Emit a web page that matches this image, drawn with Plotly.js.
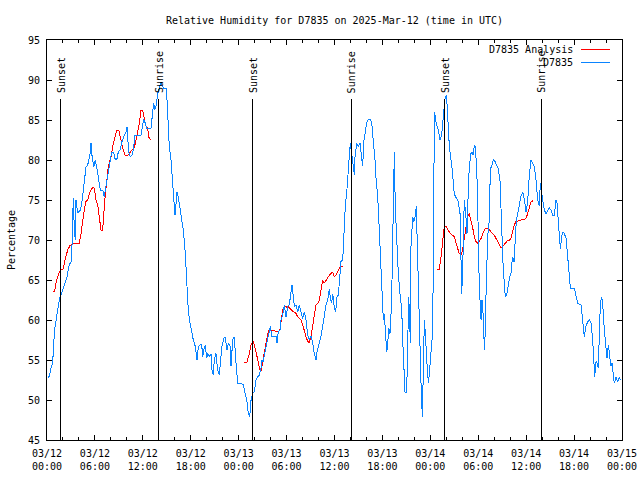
<!DOCTYPE html>
<html>
<head>
<meta charset="utf-8">
<script src="https://cdn.plot.ly/plotly-3.0.1.min.js"></script>
<style>
html,body{margin:0;padding:0;background:#fff}
#chart .scatterlayer path, #chart .shapelayer path { shape-rendering: crispEdges; }
</style>
</head>
<body>
<div id="chart" style="width:640px;height:480px"></div>
<script>
// Hours since 2025-03-12 00:00 UTC
const startUTC = Date.UTC(2025, 2, 12);

const obsHours = [
0.13,0.29,0.50,0.71,0.84,1.00,1.34,1.63,1.84,2.09,
2.25,2.50,2.79,3.01,3.13,3.29,3.42,3.54,3.63,3.84,
4.17,4.35,4.55,4.67,4.88,5.10,5.30,5.45,5.51,5.63,
5.85,6.05,6.26,6.42,6.67,6.97,7.18,7.30,7.51,7.73,
7.89,8.10,8.35,8.51,8.73,8.93,9.14,9.39,9.68,9.89,
10.02,10.11,10.23,10.43,10.64,10.86,10.98,11.77,11.98,12.11,
12.31,12.48,13.02,13.19,13.36,13.52,13.69,13.86,14.06,14.28,
14.56,14.90,15.03,15.15,15.31,15.53,15.65,15.82,16.03,16.15,
16.28,16.44,16.65,16.87,17.07,17.32,17.53,17.69,17.91,18.12,
18.32,18.57,18.78,18.95,19.16,19.37,19.50,19.62,19.82,20.00,
20.12,20.32,20.54,20.66,20.82,20.95,21.16,21.37,21.58,21.70,
21.91,22.13,22.29,22.54,22.70,22.92,23.04,23.25,23.45,23.67,
23.88,24.29,24.58,24.79,25.01,25.21,25.38,25.55,25.76,25.96,
26.17,26.38,26.58,26.80,26.88,27.05,27.21,27.42,27.64,27.84,
27.96,28.14,28.68,28.80,28.96,29.18,29.30,29.51,29.72,29.93,
30.14,30.34,30.55,30.68,30.84,30.97,31.18,31.39,31.59,31.81,
32.02,32.22,32.43,32.65,32.85,33.06,33.27,33.47,33.68,33.81,
33.97,34.19,34.31,34.52,34.72,34.94,35.15,35.35,35.48,35.65,
35.78,35.98,36.15,36.31,36.48,36.60,36.81,37.03,37.10,37.23,
37.35,37.53,37.65,37.85,37.98,38.15,38.36,38.48,38.57,38.78,
38.98,39.19,39.41,39.53,39.66,39.82,40.03,40.23,40.48,40.66,
40.86,41.07,41.20,41.41,41.61,41.82,42.04,42.11,42.24,42.36,
42.54,42.66,42.79,42.95,43.08,43.20,43.36,43.49,43.61,43.79,
43.99,44.20,44.42,44.54,44.67,44.83,45.04,45.17,45.29,45.42,
45.49,45.58,45.79,45.92,46.08,46.24,46.37,46.49,46.67,46.74,
46.87,47.00,47.12,47.17,47.25,47.37,47.50,47.65,47.77,47.95,
48.08,48.21,48.37,48.50,48.62,48.77,49.00,49.21,49.42,49.62,
49.84,50.03,50.18,50.38,50.59,50.80,50.93,51.13,51.30,51.50,
51.72,51.84,51.93,52.05,52.18,52.25,52.46,52.59,52.75,52.88,
53.09,53.22,53.38,53.51,53.63,53.81,53.93,54.01,54.13,54.26,
54.35,54.47,54.60,54.68,54.81,54.93,55.06,55.18,55.39,55.51,
55.69,55.89,56.10,56.31,56.51,56.72,56.85,56.97,57.10,57.26,
57.39,57.60,57.76,57.94,58.10,58.29,58.48,58.60,58.77,58.94,
59.14,59.35,59.57,59.77,59.98,60.19,60.39,60.61,60.82,61.02,
61.23,61.45,61.65,61.77,61.95,62.11,62.27,62.48,62.70,62.90,
63.11,63.32,63.53,63.74,63.86,63.95,64.15,64.28,64.45,64.58,
64.78,64.99,65.20,65.40,65.53,66.03,66.24,66.45,66.87,66.99,
67.16,67.28,67.49,67.71,67.91,68.12,68.33,68.46,68.58,68.75,
68.87,69.03,69.16,69.29,69.46,69.58,69.79,70.00,70.12,70.29,
70.46,70.62,70.75,70.91,71.04,71.25,71.46,71.66,71.79
];
const obsValues = [
52.8,53.0,54.0,54.6,57.1,59.1,61.25,62.9,63.4,64.1,
64.5,65.4,66.9,67.3,69.3,75.2,71.5,70.0,75.0,73.4,
73.75,74.6,76.25,77.7,79.1,79.4,80.6,81.0,82.1,80.6,
79.1,80.0,78.9,77.9,76.25,76.25,75.4,76.25,77.5,79.1,
79.6,81.0,81.0,80.2,80.0,81.0,81.25,82.3,83.1,83.5,
84.1,83.1,81.0,80.4,80.6,81.5,83.1,83.1,84.6,85.1,
84.6,84.0,84.0,86.0,87.1,86.3,86.9,88.3,89.0,89.75,
89.0,89.0,87.5,84.4,81.7,80.0,77.9,75.9,73.1,75.0,
76.0,75.4,73.75,72.5,71.25,68.3,64.2,61.25,59.6,58.4,
57.5,56.7,55.0,56.7,56.9,56.9,55.4,56.25,56.9,55.2,
55.8,55.4,55.8,53.75,53.1,55.0,55.8,53.75,53.1,54.6,
56.7,57.7,57.9,56.25,57.1,56.7,54.2,57.5,57.9,54.6,
52.1,52.1,51.9,50.9,50.0,48.3,47.9,50.0,50.8,51.1,
52.5,52.9,53.1,54.0,55.0,54.8,55.6,56.3,57.5,58.75,
59.2,58.0,58.0,57.1,58.5,58.75,60.0,60.6,61.9,60.4,
61.7,61.9,63.75,64.4,63.0,61.7,61.9,61.0,61.9,61.0,
60.2,61.0,60.0,58.1,57.5,58.0,57.1,55.8,55.0,56.0,
56.7,57.3,58.0,59.2,60.4,61.9,62.5,63.9,62.7,62.1,
63.3,61.5,61.0,62.9,63.1,64.7,67.3,67.5,69.2,71.0,
74.2,75.9,78.3,80.4,82.1,80.4,79.2,78.1,80.4,82.1,
81.7,82.1,80.0,79.2,82.3,83.1,84.6,85.1,85.1,84.6,
82.5,80.0,77.7,75.4,71.25,66.0,60.8,60.0,60.8,58.5,
56.0,57.0,59.0,58.3,60.8,65.0,77.9,81.0,74.2,70.0,
65.8,63.3,61.25,57.5,54.6,51.0,51.0,56.7,62.9,60.0,
57.1,69.2,72.9,72.3,72.9,74.2,69.2,64.2,57.5,54.2,
50.8,47.9,52.5,57.1,60.0,58.3,55.4,53.3,52.1,54.2,
55.8,57.5,65.0,86.0,85.4,84.4,83.75,82.5,83.1,85.6,
87.7,88.1,85.8,81.7,80.0,78.3,76.25,75.4,75.2,74.8,
73.3,68.3,63.3,66.25,72.5,75.0,72.9,70.8,76.25,79.2,
80.8,81.0,80.6,81.9,81.7,78.9,74.4,68.0,64.2,61.7,
60.0,62.5,60.8,58.3,56.25,61.7,66.7,70.4,72.5,78.9,
79.2,80.0,79.8,79.2,78.9,77.5,73.3,69.6,67.1,64.6,
62.9,63.3,64.6,65.4,65.8,67.9,67.3,70.0,72.5,73.3,
74.6,75.5,76.0,75.1,73.5,74.8,78.0,80.0,79.6,79.2,
77.5,75.0,74.2,77.1,75.8,74.8,73.75,73.3,73.75,74.0,
73.75,73.1,73.1,75.0,74.6,73.3,71.25,68.9,70.4,71.0,
70.8,70.2,67.9,65.8,64.0,64.0,63.1,62.1,61.9,60.8,
59.2,57.9,59.2,59.8,60.0,59.6,57.5,54.6,52.9,54.8,
54.6,54.0,57.1,62.1,62.9,62.1,58.75,56.25,55.2,56.9,
55.4,54.2,54.6,53.3,52.1,52.9,52.3,52.9,52.5
];

// Analysis series (three separate runs, gaps as null)
const anaHours = [
0.71,0.94,1.21,1.54,1.84,2.04,2.25,2.59,2.88,3.29,
3.72,4.04,4.26,4.47,4.67,4.88,5.10,5.30,5.51,5.72,
5.92,6.14,6.35,6.55,6.76,6.97,7.18,7.30,7.48,7.60,
7.80,8.01,8.23,8.51,8.73,8.98,9.14,9.35,9.55,9.77,
10.11,10.31,10.61,10.93,11.14,11.36,11.56,11.77,11.98,12.18,
12.40,12.61,12.73,12.94,
null,
24.63,25.04,25.33,25.58,25.80,25.98,26.26,26.46,26.67,26.83,
27.09,27.30,27.51,27.64,27.84,28.26,28.76,29.01,29.18,29.30,
29.51,29.72,29.93,30.14,30.34,30.55,30.77,30.97,31.18,31.39,
31.59,31.81,32.02,32.22,32.43,32.65,32.85,33.06,33.27,33.47,
33.68,33.90,34.10,34.31,34.52,34.72,34.94,35.15,35.35,35.56,
35.78,35.98,36.19,36.40,36.60,36.81,37.03,
null,
48.80,49.12,49.34,49.55,49.75,49.96,50.18,50.38,50.59,51.00,
51.22,51.43,51.63,51.84,52.05,52.25,52.46,52.68,52.88,53.09,
53.31,53.51,53.72,53.93,54.13,54.35,54.56,54.76,54.97,55.18,
55.39,55.60,55.81,56.01,56.22,56.44,56.64,56.85,57.06,57.26,
57.48,57.69,57.89,58.10,58.32,58.52,58.73,58.94,59.35,59.77,
59.98,60.19,60.39,60.61,60.86
];
const anaValues = [
63.6,63.6,65.0,66.0,66.3,66.4,67.5,68.75,69.3,69.5,
69.6,69.6,70.8,72.7,73.75,74.8,75.0,75.8,76.25,76.6,
76.5,75.0,74.4,72.9,71.25,71.25,74.6,75.8,77.1,78.75,
79.6,80.4,81.7,82.9,83.75,83.75,82.9,82.1,81.25,80.6,
80.6,80.8,81.25,81.5,82.5,83.5,84.6,86.2,86.2,85.2,
84.2,84.0,82.9,82.5,
null,
54.7,54.7,55.8,57.0,57.3,56.8,55.6,54.6,53.75,53.75,
55.2,56.25,57.5,58.3,58.8,58.7,58.5,58.5,58.9,60.0,
61.25,61.75,61.6,61.7,61.5,61.25,61.1,61.0,60.8,60.4,
60.2,60.0,59.4,58.5,57.9,57.3,57.2,57.9,59.4,60.6,
61.9,62.1,62.5,63.75,65.0,64.6,65.0,65.4,65.6,65.8,
66.0,65.4,65.6,66.0,66.5,66.6,66.7,
null,
66.3,66.3,67.9,69.6,71.7,71.75,71.25,71.0,70.75,70.4,
69.6,69.0,68.3,68.1,68.75,70.2,71.7,72.9,73.3,72.5,
71.5,70.4,69.8,69.6,69.8,70.2,70.8,71.25,71.5,71.5,
71.25,71.0,70.8,70.6,70.2,69.8,69.4,69.0,69.2,69.4,
69.7,70.0,70.0,70.2,71.0,71.9,72.3,72.4,72.5,72.6,
72.7,73.3,73.9,74.8,74.9
];

const sunHours = [1.73, 14.00, 25.77, 38.09, 49.81, 61.92];
const sunLabels = ["Sunset", "Sunrise", "Sunset", "Sunrise", "Sunset", "Sunrise"];
const sunLineTop = 87.6;

const seriesNames = ["D7835 Analysis", "D7835"];
const seriesColors = ["#ff0000", "#0a84ff"];

const yTitle = "Percentage";
const chartTitle = "Relative Humidity for D7835 on 2025-Mar-12 (time in UTC)";

function toTime(h) {
  if (h === null) return null;
  return new Date(startUTC + h * 3600000).toISOString().slice(0, 19).replace('T', ' ');
}

const FONT = "DejaVu Sans Mono, monospace";

const traces = [
  {
    x: anaHours.map(toTime), y: anaValues, type: 'scatter', mode: 'lines',
    name: seriesNames[0], line: {color: seriesColors[0], width: 1}, connectgaps: false,
    showlegend: false, hoverinfo: 'skip'
  },
  {
    x: obsHours.map(toTime), y: obsValues, type: 'scatter', mode: 'lines',
    name: seriesNames[1], line: {color: seriesColors[1], width: 1},
    showlegend: false, hoverinfo: 'skip'
  }
];

const shapes = sunHours.map(h => ({
  type: 'line', xref: 'x', yref: 'y', x0: toTime(h), x1: toTime(h), y0: 45, y1: sunLineTop,
  line: {color: '#000', width: 1}
}));

const annotations = sunHours.map((h, i) => ({
  x: toTime(h), y: sunLineTop, xref: 'x', yref: 'y', text: sunLabels[i],
  textangle: -90, showarrow: false, xanchor: 'center', yanchor: 'bottom', yshift: 4,
  font: {family: FONT, size: 10, color: '#000'}
}));

// custom legend (text left of line sample, like the original)
const legY = [0.976, 0.944];
seriesNames.forEach((n, i) => {
  annotations.push({
    x: 0.918, y: legY[i], xref: 'paper', yref: 'paper', text: n, showarrow: false,
    xanchor: 'right', yanchor: 'middle', font: {family: FONT, size: 10, color: '#000'}
  });
  shapes.push({
    type: 'line', xref: 'paper', yref: 'paper', x0: 0.929, x1: 0.979, y0: legY[i], y1: legY[i],
    line: {color: seriesColors[i], width: 1}
  });
});

const layout = {
  width: 640, height: 480,
  margin: {l: 47, r: 18, t: 40, b: 40},
  paper_bgcolor: '#fff', plot_bgcolor: '#fff',
  font: {family: FONT, size: 10, color: '#000'},
  title: {text: chartTitle, font: {family: FONT, size: 10, color: '#000'},
          x: 0.5, xref: 'paper', xanchor: 'center', y: 0.958, yref: 'container', yanchor: 'middle'},
  xaxis: {
    type: 'date', range: [toTime(0), toTime(72)],
    tick0: toTime(0), dtick: 6 * 3600000, tickformat: '%m/%d<br>%H:%M',
    ticks: 'inside', ticklen: 5, tickcolor: '#000', tickwidth: 1,
    showline: true, linecolor: '#000', linewidth: 1, mirror: 'allticks',
    showgrid: false, zeroline: false,
    minor: {dtick: 2 * 3600000, ticks: 'inside', ticklen: 3, tickcolor: '#000', showgrid: false},
    tickfont: {family: FONT, size: 10, color: '#000'}, ticklabelstandoff: 4
  },
  yaxis: {
    range: [45, 95], dtick: 5, tick0: 45,
    ticks: 'inside', ticklen: 5, tickcolor: '#000', tickwidth: 1,
    showline: true, linecolor: '#000', linewidth: 1, mirror: 'allticks',
    showgrid: false, zeroline: false,
    tickfont: {family: FONT, size: 10, color: '#000'}, ticklabelstandoff: 4,
    title: {text: yTitle, font: {family: FONT, size: 10, color: '#000'}, standoff: 10}
  },
  shapes: shapes,
  annotations: annotations,
  showlegend: false
};

Plotly.newPlot('chart', traces, layout, {staticPlot: true, displayModeBar: false});
</script>
</body>
</html>
